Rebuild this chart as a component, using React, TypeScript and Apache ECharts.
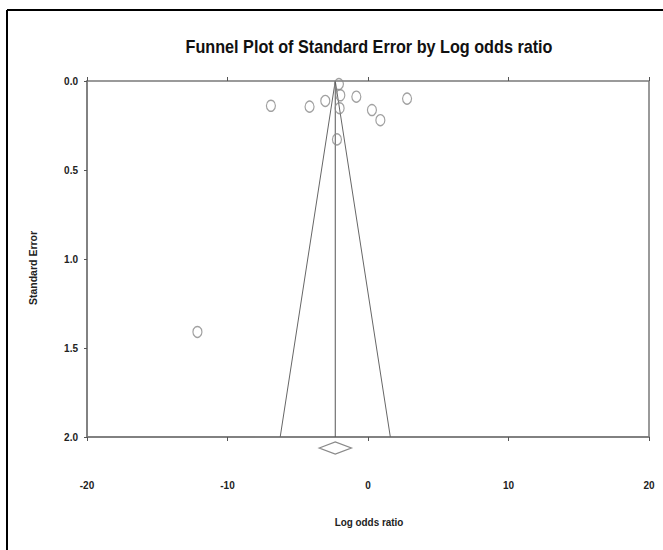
import React, { useEffect, useRef } from "react";
import * as echarts from "echarts";

// Study estimates (log odds ratio) and their standard errors
const logOddsRatio = [-6.91, -4.16, -3.04, -2.07, -1.97, -0.83, -2.02, 0.28, 0.88, 2.78, -2.21, -12.14];
const standardError = [0.139, 0.144, 0.112, 0.017, 0.08, 0.088, 0.153, 0.163, 0.22, 0.099, 0.328, 1.41];

// Combined (pooled) estimate and its confidence interval
const pooledEstimate = -2.33;
const pooledLower = -3.47;
const pooledUpper = -1.19;

// Axes
const xTicks = [-20, -10, 0, 10, 20];
const yTicks = [0.0, 0.5, 1.0, 1.5, 2.0];
const seMax = 2.0;

const FONT = "'Liberation Sans', Arial, Helvetica, sans-serif";

export default function App() {
  const ref = useRef<HTMLDivElement>(null);

  useEffect(() => {
    document.body.style.margin = "0";
    if (!ref.current) return;
    const chart = echarts.init(ref.current, null, { renderer: "svg" });

    const points = logOddsRatio.map((x, i) => [x, standardError[i]]);
    const funnel = [
      [pooledEstimate - 1.96 * seMax, seMax],
      [pooledEstimate, 0],
      [pooledEstimate + 1.96 * seMax, seMax],
    ];
    const vertical = [
      [pooledEstimate, 0],
      [pooledEstimate, seMax],
    ];

    const axisLabelStyle = {
      fontFamily: FONT,
      fontWeight: "bold" as const,
      fontSize: 10,
      color: "#222",
    };

    chart.setOption({
      animation: false,
      grid: {
        left: 87,
        right: 14,
        top: 81,
        bottom: 113,
        show: true,
        borderColor: "#7a7a7a",
        borderWidth: 1.5,
        backgroundColor: "transparent",
      },
      xAxis: [
        {
          type: "value",
          min: xTicks[0],
          max: xTicks[xTicks.length - 1],
          interval: 10,
          splitLine: { show: false },
          axisLine: { show: true, onZero: false, lineStyle: { color: "#7a7a7a", width: 1.5 } },
          axisTick: { show: true, length: 4, lineStyle: { color: "#555" } },
          axisLabel: { ...axisLabelStyle, margin: 43 },
        },
        {
          type: "value",
          position: "bottom",
          min: xTicks[0],
          max: xTicks[xTicks.length - 1],
          interval: 10,
          splitLine: { show: false },
          axisLine: { show: false },
          axisTick: { show: true, inside: true, length: 4, lineStyle: { color: "#555" } },
          axisLabel: { show: false },
        },
      ],
      yAxis: {
        type: "value",
        inverse: true,
        min: yTicks[0],
        max: yTicks[yTicks.length - 1],
        interval: 0.5,
        splitLine: { show: false },
        axisLine: { show: true, onZero: false, lineStyle: { color: "#7a7a7a", width: 1.5 } },
        axisTick: { show: true, length: 3, lineStyle: { color: "#555" } },
        axisLabel: {
          ...axisLabelStyle,
          margin: 9,
          formatter: (v: number) => v.toFixed(1),
        },
      },
      graphic: [
        {
          type: "line",
          shape: { x1: 7, y1: 10, x2: 663, y2: 10 },
          style: { stroke: "#000", lineWidth: 2 },
        },
        {
          type: "line",
          shape: { x1: 7, y1: 10, x2: 7, y2: 550 },
          style: { stroke: "#000", lineWidth: 2 },
        },
        {
          type: "text",
          x: 369,
          y: 47,
          scaleX: 0.9,
          style: {
            text: "Funnel Plot of Standard Error by Log odds ratio",
            fontFamily: FONT,
            fontWeight: "bold",
            fontSize: 18,
            fill: "#111",
            align: "center",
            verticalAlign: "middle",
          },
        },
        {
          type: "text",
          x: 33,
          y: 268,
          rotation: Math.PI / 2,
          style: {
            text: "Standard Error",
            fontFamily: FONT,
            fontWeight: "bold",
            fontSize: 10.5,
            fill: "#222",
            align: "center",
            verticalAlign: "middle",
          },
        },
        {
          type: "text",
          x: 369,
          y: 522,
          scaleX: 0.9,
          style: {
            text: "Log odds ratio",
            fontFamily: FONT,
            fontWeight: "bold",
            fontSize: 11,
            fill: "#222",
            align: "center",
            verticalAlign: "middle",
          },
        },
      ],
      series: [
        {
          type: "line",
          data: funnel,
          symbol: "none",
          lineStyle: { color: "#666", width: 1 },
          z: 2,
        },
        {
          type: "line",
          data: vertical,
          symbol: "none",
          lineStyle: { color: "#555", width: 1 },
          z: 2,
        },
        {
          type: "scatter",
          data: points,
          symbol: "circle",
          symbolSize: [9, 11],
          itemStyle: {
            color: "rgba(255,255,255,0)",
            borderColor: "#8a8a8a",
            borderWidth: 1.3,
          },
          z: 3,
        },
        {
          type: "custom",
          clip: false,
          data: [[pooledEstimate, pooledLower, pooledUpper]],
          renderItem: (params: any, api: any) => {
            const c = api.coord([api.value(0), seMax]);
            const l = api.coord([api.value(1), seMax]);
            const r = api.coord([api.value(2), seMax]);
            const cy = c[1] + 11;
            return {
              type: "polygon",
              shape: {
                points: [
                  [l[0], cy],
                  [c[0], cy - 6],
                  [r[0], cy],
                  [c[0], cy + 6],
                ],
              },
              style: { fill: "#fff", stroke: "#8a8a8a", lineWidth: 1.3 },
            };
          },
        },
      ],
    });

    return () => chart.dispose();
  }, []);

  return <div ref={ref} style={{ width: 663, height: 550 }} />;
}
